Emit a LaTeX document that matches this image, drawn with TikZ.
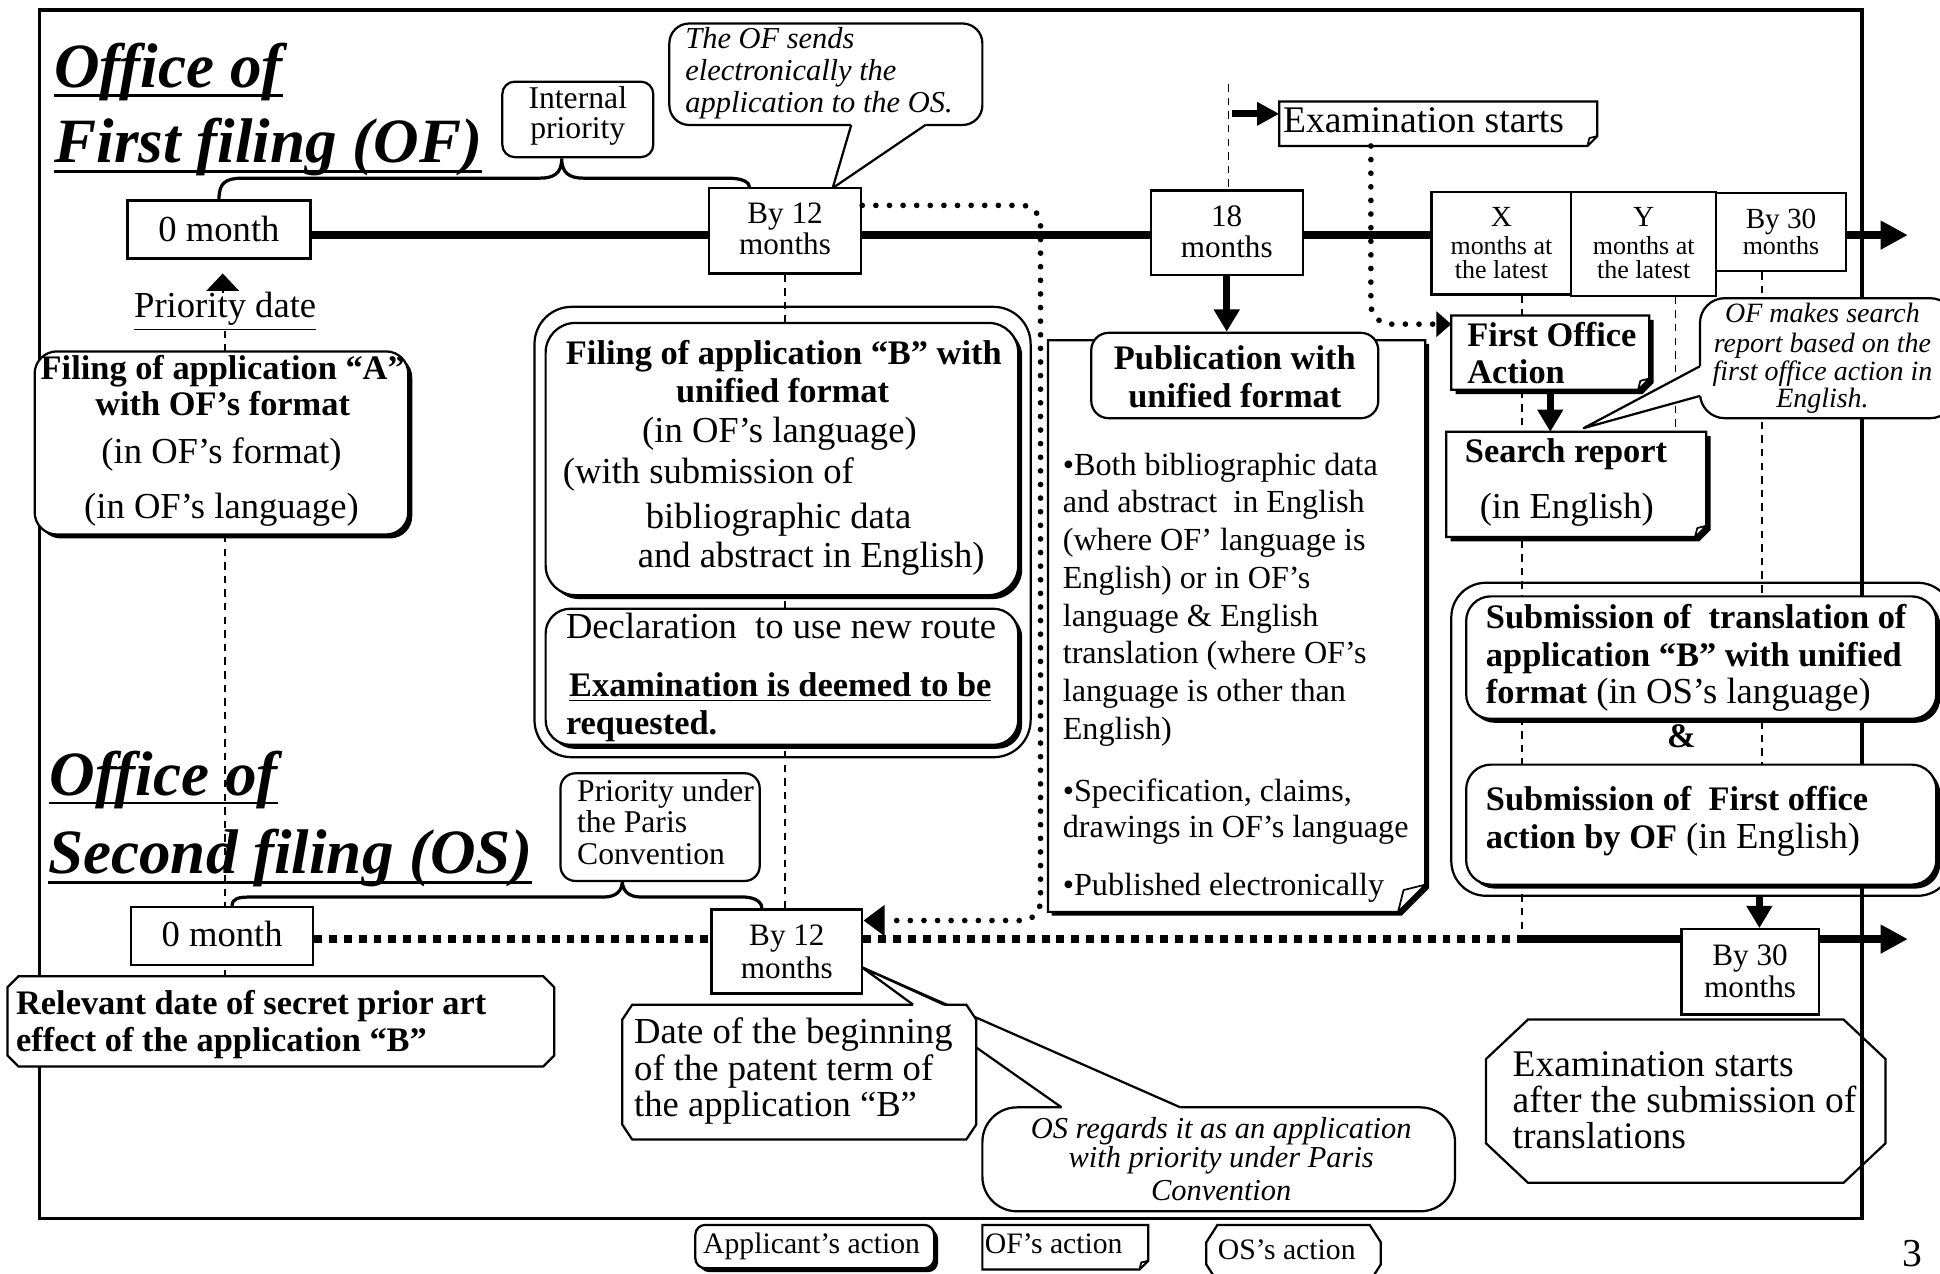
\documentclass[tikz,border=0pt]{standalone}
\usepackage{fontspec}
\setmainfont{Liberation Serif}
\usetikzlibrary{arrows.meta,shadows,calc}
\pgfdeclarelayer{background}
\pgfsetlayers{background,main}
\newcommand\fTi{\normalfont\fontsize{25.5}{28}\selectfont\bfseries\itshape}
\newcommand\fRg{\normalfont\fontsize{14.8}{16}\selectfont}
\newcommand\fRgL{\normalfont\fontsize{15.2}{17}\selectfont}
\newcommand\fBd{\normalfont\fontsize{13.9}{16}\selectfont\bfseries}
\newcommand\fPub{\normalfont\fontsize{13}{15}\selectfont}
\newcommand\fMo{\normalfont\fontsize{12.6}{14}\selectfont}
\newcommand\fXs{\normalfont\fontsize{10.5}{12}\selectfont}
\newcommand\fBy{\normalfont\fontsize{11.8}{13}\selectfont}
\newcommand\fIt{\normalfont\fontsize{12.3}{13}\selectfont\itshape}
\newcommand\fItS{\normalfont\fontsize{11.3}{12}\selectfont\itshape}
\newcommand\fSm{\normalfont\fontsize{12.8}{14}\selectfont}
\newcommand\fLg{\normalfont\fontsize{12}{13}\selectfont}
% box node: [opts]{x1}{y1}{x2}{y2}{name}
\newcommand\Bx[6][]{\node[bx,fill=white,inner sep=0pt,#1,minimum width={(#4-#2)*0.5pt},minimum height={(#5-#3)*0.5pt}] (#6) at ({(#2+#4)/2},{(#3+#5)/2}) {};}
% text line: [anchor]{name}{x}{y}{text}
\newcommand\Tx[5][base west]{\node[inner sep=0pt,outer sep=0pt,anchor=#1] (#2) at (#3,#4) {#5};}
% note with folded corner: [shadow]{x1}{y1}{x2}{y2}{fold}{name}
\newcommand\Note[7][0]{%
 \fill[black] (#2+#1,#3+#1) -- (#4+#1,#3+#1) -- (#4+#1,#5+#1-#6) -- (#4+#1-#6,#5+#1) -- (#2+#1,#5+#1) -- cycle;
 \draw[bx,fill=white] (#2,#3) -- (#4,#3) -- (#4,#5-#6) -- (#4-#6,#5) -- (#2,#5) -- cycle;
 \draw[line width=0.7pt,fill=white,line join=round] (#4,#5-#6) -- (#4-0.8*#6,#5-0.8*#6) -- (#4-#6,#5) -- cycle;
 \node[inner sep=0pt,outer sep=0pt,minimum width={(#4-#2)*0.5pt},minimum height={(#5-#3)*0.5pt}] (#7) at ({(#2+#4)/2},{(#3+#5)/2}) {};}
% chamfered box: [opts]{x1}{y1}{x2}{y2}{cx}{cy}{name}
\newcommand\Chm[8][]{%
 \draw[bx,#1] (#2+#6,#3) -- (#4-#6,#3) -- (#4,#3+#7) -- (#4,#5-#7) -- (#4-#6,#5) -- (#2+#6,#5) -- (#2,#5-#7) -- (#2,#3+#7) -- cycle;
 \node[inner sep=0pt,outer sep=0pt,minimum width={(#4-#2)*0.5pt},minimum height={(#5-#3)*0.5pt}] (#8) at ({(#2+#4)/2},{(#3+#5)/2}) {};}
\begin{document}
\begin{tikzpicture}[x=0.5pt,y=-0.5pt,
 bx/.style={draw=black,line width=0.9pt},
 shd/.style={drop shadow={shadow xshift=1.6pt,shadow yshift=-1.6pt,opacity=1,fill=black}},
 tline/.style={line width=2.9pt},
 guide/.style={line width=0.6pt,dash pattern=on 3pt off 2.5pt},
 rdots/.style={line width=2.3pt,dash pattern=on 0pt off 5.5pt,line cap=round},
 sqdots/.style={line width=3.4pt,dash pattern=on 3.2pt off 2.8pt},
 bigarrow/.style={line width=2.9pt,-{Triangle[length=11pt,width=11pt]}},
 dnarrow/.style={line width=2.8pt,-{Triangle[length=9pt,width=10pt]}},
 uline/.style={line width=1.2pt}]
\useasboundingbox (0,0) rectangle (1568,1029);

\coordinate (tly) at (0,190);
\coordinate (osl) at (0,759);
\coordinate (ofend) at (1542,190);
\coordinate (osend) at (1542,759);
\coordinate (osj) at (1232,759);
\coordinate (xg) at (1230,0);
\coordinate (yg) at (1354,0);
\coordinate (zg) at (1424,0);
\coordinate (ax) at (1422,0);
\coordinate (xd) at (1108,0);
\coordinate (g18) at (993,68);
\coordinate (ea) at (996,92);
\coordinate (d1) at (0,166);
\coordinate (d2) at (0,744);
\coordinate (d3) at (0,262);
\coordinate (pdt) at (180,221);
\coordinate (pdb) at (180,237);

% ---------- titles ----------
\Tx{ti1}{44}{71}{\fTi Office of}
\Tx{ti2}{44}{131}{\fTi First filing (OF)}
\Tx{ti3}{40}{643}{\fTi Office of}
\Tx{ti4}{39}{706}{\fTi Second filing (OS)}
\draw[uline] ([yshift=-3pt]ti1.base west) -- ([yshift=-3pt]ti1.base east);
\draw[uline] ([yshift=-3.8pt]ti2.base west) -- ([yshift=-3.8pt]ti2.base east);
\draw[uline] ([yshift=-3pt]ti3.base west) -- ([yshift=-3pt]ti3.base east);
\draw[uline] ([yshift=-3.8pt]ti4.base west) -- ([yshift=-3.8pt]ti4.base east);

% ---------- OF timeline boxes ----------
\Bx{103}{162}{251}{209}{of0}
\Tx[base]{of0t}{177}{195}{\fRg 0 month}
\Bx{573}{152}{696}{221}{b12}
\Tx[base]{b12a}{634.5}{181}{\fMo By 12}
\Tx[base]{b12b}{634.5}{206}{\fMo months}
\Bx{930}{154}{1053}{222}{m18}
\Tx[base]{m18a}{991.5}{183}{\fMo 18}
\Tx[base]{m18b}{991.5}{208}{\fMo months}
\Bx{1157}{155}{1270}{238}{bxx}
\Tx[base]{xa}{1213.5}{183}{\fBy X}
\Tx[base]{xb}{1213.5}{205.6}{\fXs months at}
\Tx[base]{xc}{1213.5}{225}{\fXs the latest}
\Bx{1270}{155}{1387}{239}{byy}
\Tx[base]{ya}{1328.5}{183}{\fBy Y}
\Tx[base]{yb}{1328.5}{205.6}{\fXs months at}
\Tx[base]{yc}{1328.5}{225}{\fXs the latest}
\Bx{1387}{156}{1492}{219}{b30}
\Tx[base]{b30a}{1439.5}{184.5}{\fBy By 30}
\Tx[base]{b30b}{1439.5}{205.6}{\fXs months}

% internal priority
\Bx[rounded corners=5pt]{406}{66}{528}{127}{ip}
\Tx[base]{ip1}{467}{88}{\fSm Internal}
\Tx[base]{ip2}{467}{112}{\fSm priority}

% priority date
\Tx[base]{pd}{182}{257}{\fRg\underline{Priority date}}

% Filing A
\Bx[rounded corners=9pt,shd]{28}{284}{330}{432}{fa}
\Tx[base]{fa1}{180}{307}{\fBd Filing of application “A”}
\Tx[base]{fa2}{180}{336}{\fBd with OF’s format}
\Tx[base]{fa3}{179}{375}{\fRg (in OF’s format)}
\Tx[base]{fa4}{179}{419}{\fRg (in OF’s language)}

% Filing B group
\Bx[rounded corners=15pt,fill=none]{432}{248}{833}{612}{bout}
\Bx[rounded corners=12pt,shd]{441}{261}{823}{481}{bfil}
\Tx[base]{fb1}{633.5}{295}{\fBd Filing of application “B” with}
\Tx[base]{fb2}{632.5}{325}{\fBd unified format}
\Tx[base]{fb3}{630}{358}{\fRg (in OF’s language)}
\Tx{fb4}{455}{391}{\fRg (with submission of}
\Tx{fb5}{522}{427}{\fRg bibliographic data}
\Tx{fb6}{515.5}{459}{\fRg and abstract in English)}
\Bx[rounded corners=10pt,shd]{441}{492}{823}{602}{bdec}
\Tx{dc1}{457.5}{516}{\fRg Declaration~ to use new route}
\Tx{dc2}{460}{563}{\fBd\underline{Examination is deemed to be}}
\Tx{dc3}{457.5}{594}{\fBd\underline{requested.}}

% Examination starts (top)
\Note{1034}{82}{1291}{118}{8}{exs}
\Tx{ex1}{1037}{107}{\fRgL Examination starts}

% Publication page
\Note[3]{847}{275}{1152}{737}{22}{pub}
\Bx[rounded corners=7pt]{882}{269}{1114}{338}{pubt}
\Tx[base]{pb1}{998}{299}{\fBd Publication with}
\Tx[base]{pb2}{998}{329}{\fBd unified format}
\Tx{pc1}{859}{384}{\fPub •Both bibliographic data}
\Tx{pc2}{859}{414.5}{\fPub and abstract~ in English}
\Tx{pc3}{859}{445}{\fPub (where OF’ language is}
\Tx{pc4}{859}{475.5}{\fPub English) or in OF’s}
\Tx{pc5}{859}{506}{\fPub language \& English}
\Tx{pc6}{859}{536.5}{\fPub translation (where OF’s}
\Tx{pc7}{859}{567}{\fPub language is other than}
\Tx{pc8}{859}{597.5}{\fPub English)}
\Tx{pc9}{859}{647.4}{\fPub •Specification, claims,}
\Tx{pc10}{859}{676.6}{\fPub drawings in OF’s language}
\Tx{pc11}{859}{724}{\fPub •Published electronically}

% First office action, search report
\Note[3.5]{1173}{255}{1333}{315}{9}{foa}
\Tx{fo1}{1186}{280}{\fBd First Office}
\Tx{fo2}{1186}{310}{\fBd Action}
\Note[3.5]{1169}{349}{1379}{434}{9}{sr}
\Tx{sr1}{1184}{374}{\fBd Search report}
\Tx{sr2}{1196}{419}{\fRg (in English)}

% Submission group
\Bx[rounded corners=14pt,fill=none]{1173}{471}{1578}{724}{subout}
\Bx[rounded corners=10pt,shd]{1185}{482}{1565}{581}{sub1}
\Tx{su1}{1201}{507.6}{\fBd Submission of~ translation of}
\Tx{su2}{1201}{539}{\fBd application “B” with unified}
\Tx{su3}{1201}{568.4}{\fBd format\fRg{} (in OS’s language)}
\Tx[base]{amp}{1359}{604}{\fBd\&}
\Bx[rounded corners=10pt,shd]{1185}{618}{1565}{715}{sub2}
\Tx{su4}{1201}{654.7}{\fBd Submission of~ First office}
\Tx{su5}{1201}{686}{\fBd action by OF\fRg{} (in English)}

% ---------- OS side ----------
\Bx[rounded corners=6pt]{453}{625}{614}{712}{pp}
\Tx{pp1}{466.5}{647.5}{\fSm Priority under}
\Tx{pp2}{466.5}{673}{\fSm the Paris}
\Tx{pp3}{466.5}{698.7}{\fSm Convention}
\Bx{106}{733}{253}{780}{os0}
\Tx[base]{os0t}{179.5}{765}{\fRg 0 month}
\Bx{575}{735}{697}{803}{os12}
\Tx[base]{os12a}{636}{764}{\fMo By 12}
\Tx[base]{os12b}{636}{791}{\fMo months}
\Bx{1359}{751}{1470}{820}{os30}
\Tx[base]{os30a}{1414.5}{780}{\fMo By 30}
\Tx[base]{os30b}{1414.5}{806}{\fMo months}

\Chm[fill=white]{6}{789}{448}{862}{9}{9}{rel}
\Tx{re1}{13}{820}{\fBd Relevant date of secret prior art}
\Tx{re2}{13}{849.5}{\fBd effect of the application “B”}

\Chm{1201}{824}{1524}{956}{34}{32}{exa}
\Tx{ea1}{1222.6}{869.7}{\fRgL Examination starts}
\Tx{ea2}{1222.6}{899}{\fRgL after the submission of}
\Tx{ea3}{1222.6}{928.4}{\fRgL translations}

% ---------- callouts ----------
\Bx[rounded corners=8pt]{541}{19}{794}{101}{cs}
\fill[white] (688,97) -- (748,97) -- (748,101) -- (673,152) -- (688,101) -- cycle;
\draw[bx,line join=round] (688,101) -- (673,152) -- (748,101);
\Tx{cs1}{554}{39}{\fIt The OF sends}
\Tx{cs2}{554}{65}{\fIt electronically the}
\Tx{cs3}{554}{91}{\fIt application to the OS.}

\Bx[rounded corners=10pt]{1374}{241}{1580}{338}{cm}
\fill[white] (1379,296) -- (1374,296) -- (1280,346) -- (1374,320) -- (1379,320) -- cycle;
\draw[bx,line join=round] (1374,296) -- (1280,346) -- (1374,320);
\Tx[base]{cm1}{1473}{261}{\fItS OF makes search}
\Tx[base]{cm2}{1473}{284.5}{\fItS report based on the}
\Tx[base]{cm3}{1473}{307.5}{\fItS first office action in}
\Tx[base]{cm4}{1473}{329}{\fItS English.}

\Bx[rounded corners=14pt]{794}{895}{1176}{979}{co}
\fill[white] (858,899) -- (954,899) -- (954,895) -- (697,782) -- (858,895) -- cycle;
\draw[bx,line join=round] (858,895) -- (697,782) -- (954,895);
\Tx[base]{co1}{987}{920}{\fIt OS regards it as an application}
\Tx[base]{co2}{987}{944}{\fIt with priority under Paris}
\Tx[base]{co3}{987}{970}{\fIt Convention}

\Chm[fill=white]{503}{812}{789}{921}{8}{12}{dob}
\fill[white] (738,816) -- (763,816) -- (763,812) -- (697,782) -- (738,812) -- cycle;
\draw[bx,line join=round] (738,812) -- (697,782) -- (763,812);
\Tx{db1}{512.6}{843}{\fRg Date of the beginning}
\Tx{db2}{512.6}{873}{\fRg of the patent term of}
\Tx{db3}{512.6}{902.6}{\fRg the application “B”}

% ---------- legend ----------
\Bx[rounded corners=4pt,shd]{562}{990}{755}{1025}{apa}
\Tx[base]{lg1}{656}{1013}{\fLg Applicant’s action}
\Note{794}{990}{928}{1026}{7}{ofa}
\Tx{lg2}{796}{1013}{\fLg OF’s action}
\Chm[fill=white]{975}{990}{1116}{1036}{9}{14}{osa}
\Tx[base]{lg3}{1040}{1018}{\fLg OS’s action}
\Tx[base]{pg}{1546}{1024}{\fontsize{16}{18}\selectfont 3}

% ---------- arrows and dotted connectors ----------
\draw[line width=0.8pt,-{Triangle[length=7pt,width=13pt]}] (pdb) -- (pdt);
\draw[line width=2.9pt,-{Triangle[length=9pt,width=9pt]}] (ea) -- (exs.west|-ea);
\draw[dnarrow] (m18.south) -- (m18.south|-pubt.north);
\draw[dnarrow] (foa.south) -- (foa.south|-sr.north);
\draw[dnarrow] (ax|-subout.south) -- (ax|-os30.north);
\draw[bigarrow] (b30.east|-tly) -- (ofend);
\draw[bigarrow] (os30.east|-osl) -- (osend);
\draw[rdots,-{Triangle[length=8.5pt,width=12pt]}] (b12.east|-d1) -- (826,166) to[out=0,in=90] (841,182) -- (841,728) to[out=-90,in=0] (826,744) -- (os12.east|-d2);
\draw[rdots,-{Triangle[length=6pt,width=10pt]}] (xd|-exs.south) -- (1108,246) to[out=-90,in=180] (1124,262) -- (foa.west|-d3);

% ---------- background ----------
\begin{pgfonlayer}{background}
\fill[white] (0,0) rectangle (1568,1029);
\draw[line width=1.3pt] (32,8) rectangle (1505,985);
\draw[guide] (pd.south) -- (pd.south|-rel.north);
\draw[guide] (b12.south) -- (b12.south|-os12.north);
\draw[guide] (g18) -- (g18|-m18.north);
\draw[guide] (xg|-bxx.south) -- (xg|-osl);
\draw[guide] (yg|-byy.south) -- (yg|-sr.north);
\draw[guide] (zg|-b30.south) -- (zg|-sub2.north);
\draw[tline] (of0.east|-tly) -- (b30.east|-tly);
\draw[sqdots] (os0.east|-osl) -- (os12.west|-osl);
\draw[sqdots] (os12.east|-osl) -- (osj);
\draw[tline] (osj) -- (os30.west|-osl);
\draw[line width=1.3pt] (of0.north) .. controls (177,148) and (182,144) .. (196,144) -- (436,144) .. controls (448,144) and (454,140) .. (454,128) .. controls (454,140) and (460,144) .. (472,144) -- (588,144) .. controls (600,144) and (606,147) .. (606,152);
\draw[line width=1.3pt] ($(os0.north)+(8,0)$) .. controls (188,726) and (192,725) .. (204,725) -- (488,725) .. controls (498,725) and (503,720) .. (503,712) .. controls (503,720) and (508,725) .. (518,725) -- (600,725) .. controls (612,725) and (616,730) .. (616,735);
\end{pgfonlayer}
\end{tikzpicture}
\end{document}
